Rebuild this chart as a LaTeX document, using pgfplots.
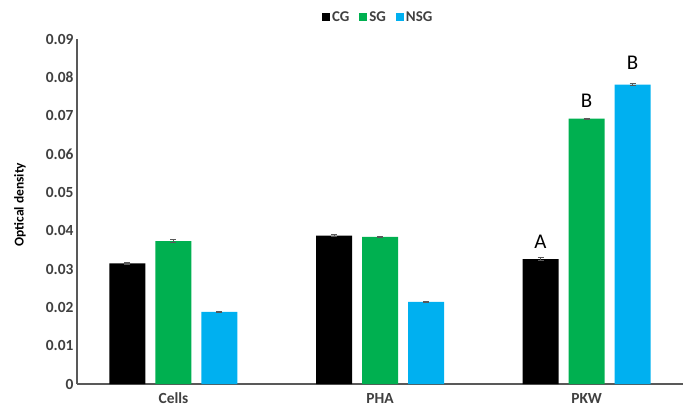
\documentclass[border=0pt]{standalone}
\usepackage{fontspec}
\setmainfont{Carlito}
\usepackage{pgfplots}
\pgfplotsset{compat=1.18}
\definecolor{sgcol}{HTML}{00B050}
\definecolor{nsgcol}{HTML}{00B0F0}
\definecolor{axgray}{HTML}{595959}
\definecolor{txtgray}{HTML}{404040}
\pgfplotsset{mylegend/.style={legend image code/.code={\fill[##1] (0bp,-4bp) rectangle (8bp,4bp);}}}
\begin{document}
\begin{tikzpicture}
\begin{axis}[
  scale only axis, width=606bp, height=345bp,
  xmin=-0.467, xmax=2.467, ymin=0, ymax=0.09,
  ybar=10bp, bar width=36bp,
  axis x line=bottom, axis y line=left,
  axis line style={axgray, line width=1.2bp, -},
  xtick={0,1,2}, xticklabels={Cells,PHA,PKW},
  ytick={0,0.01,0.02,0.03,0.04,0.05,0.06,0.07,0.08,0.09},
  yticklabels={0,0.01,0.02,0.03,0.04,0.05,0.06,0.07,0.08,0.09},
  scaled y ticks=false,
  /pgf/number format/assume math mode=true,
  major tick length=0pt,
  tick label style={font=\fontsize{15.5}{18}\selectfont\bfseries, text=txtgray},
  xticklabel style={yshift=-5.5bp},
  ylabel={Optical density},
  ylabel style={font=\fontsize{13.5}{16}\selectfont\bfseries, at={(axis description cs:-0.094,0.52)}, anchor=center},
  legend style={at={(0.497,1)}, anchor=center, yshift=22bp, draw=none, fill=none,
    legend columns=-1, font=\fontsize{15}{18}\selectfont\bfseries, text=txtgray,
    /tikz/every even column/.append style={column sep=8bp}},
  error bars/y dir=both, error bars/y explicit,
  error bars/error bar style={axgray, line width=0.8bp},
  error bars/error mark options={rotate=90, mark size=3bp, axgray, line width=0.8bp},
]
\addplot[fill=black, draw=none, mylegend] coordinates {
  (0,0.0315) +- (0,0.0003)
  (1,0.0387) +- (0,0.0002)
  (2,0.0326) +- (0,0.0003)};
\addplot[fill=sgcol, draw=none, mylegend] coordinates {
  (0,0.0373) +- (0,0.0004)
  (1,0.0384) +- (0,0.0002)
  (2,0.0692) +- (0,0.0002)};
\addplot[fill=nsgcol, draw=none, mylegend] coordinates {
  (0,0.0188) +- (0,0.0002)
  (1,0.0214) +- (0,0.0002)
  (2,0.0781) +- (0,0.0002)};
\legend{CG,SG,NSG}
\node[font=\fontsize{21}{24}\selectfont, anchor=base, yshift=11bp] at (axis cs:1.7772,0.0326) {A};
\node[font=\fontsize{21}{24}\selectfont, anchor=base, yshift=11bp] at (axis cs:2,0.0692) {B};
\node[font=\fontsize{21}{24}\selectfont, anchor=base, yshift=15bp] at (axis cs:2.2228,0.0781) {B};
\end{axis}
\pgfresetboundingbox
\path ([shift={(-77bp,-24bp)}]current axis.south west) rectangle ([shift={(3bp,39bp)}]current axis.north east);
\end{tikzpicture}
\end{document}
